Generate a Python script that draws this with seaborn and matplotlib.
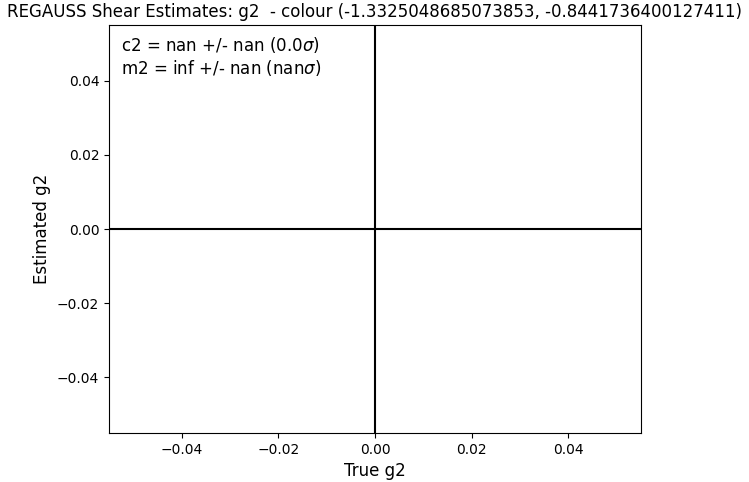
import matplotlib
matplotlib.use("Agg")
import matplotlib.pyplot as plt
import numpy as np
import pandas as pd
import seaborn as sns

# no finite shear points survived the cut, so the scatter is empty
true_g2 = []
est_g2 = []
c2_val, c2_err, c2_sig = "nan", "nan", "0.0"
m2_val, m2_err, m2_sig = "inf", "nan", "nan"
colour_bin = (-1.3325048685073853, -0.8441736400127411)
lims = (-0.055, 0.055)
ticks = [-0.04, -0.02, 0.00, 0.02, 0.04]

df = pd.DataFrame({"true": pd.Series(true_g2, dtype=float),
                   "est": pd.Series(est_g2, dtype=float)})

fig = plt.figure(figsize=(7.49, 4.82), dpi=100)
ax = fig.add_axes([0.1455, 0.1017, 0.7103, 0.8463])
sns.scatterplot(data=df, x="true", y="est", ax=ax)
ax.axhline(0, color="k")
ax.axvline(0, color="k")
ax.set_xlim(*lims)
ax.set_ylim(*lims)
ax.set_xticks(ticks)
ax.set_yticks(ticks)
ax.set_xlabel("True g2", fontsize=12)
ax.set_ylabel("Estimated g2", fontsize=12)
ax.set_title(f"REGAUSS Shear Estimates: g2  - colour {colour_bin}", fontsize=12)
ax.text(0.022, 0.975,
        f"c2 = {c2_val} +/- {c2_err} ({c2_sig}$\\sigma$)\n"
        f"m2 = {m2_val} +/- {m2_err} ({m2_sig}$\\sigma$)",
        transform=ax.transAxes, va="top", ha="left", fontsize=12)
fig.savefig("out.png", dpi=100)
